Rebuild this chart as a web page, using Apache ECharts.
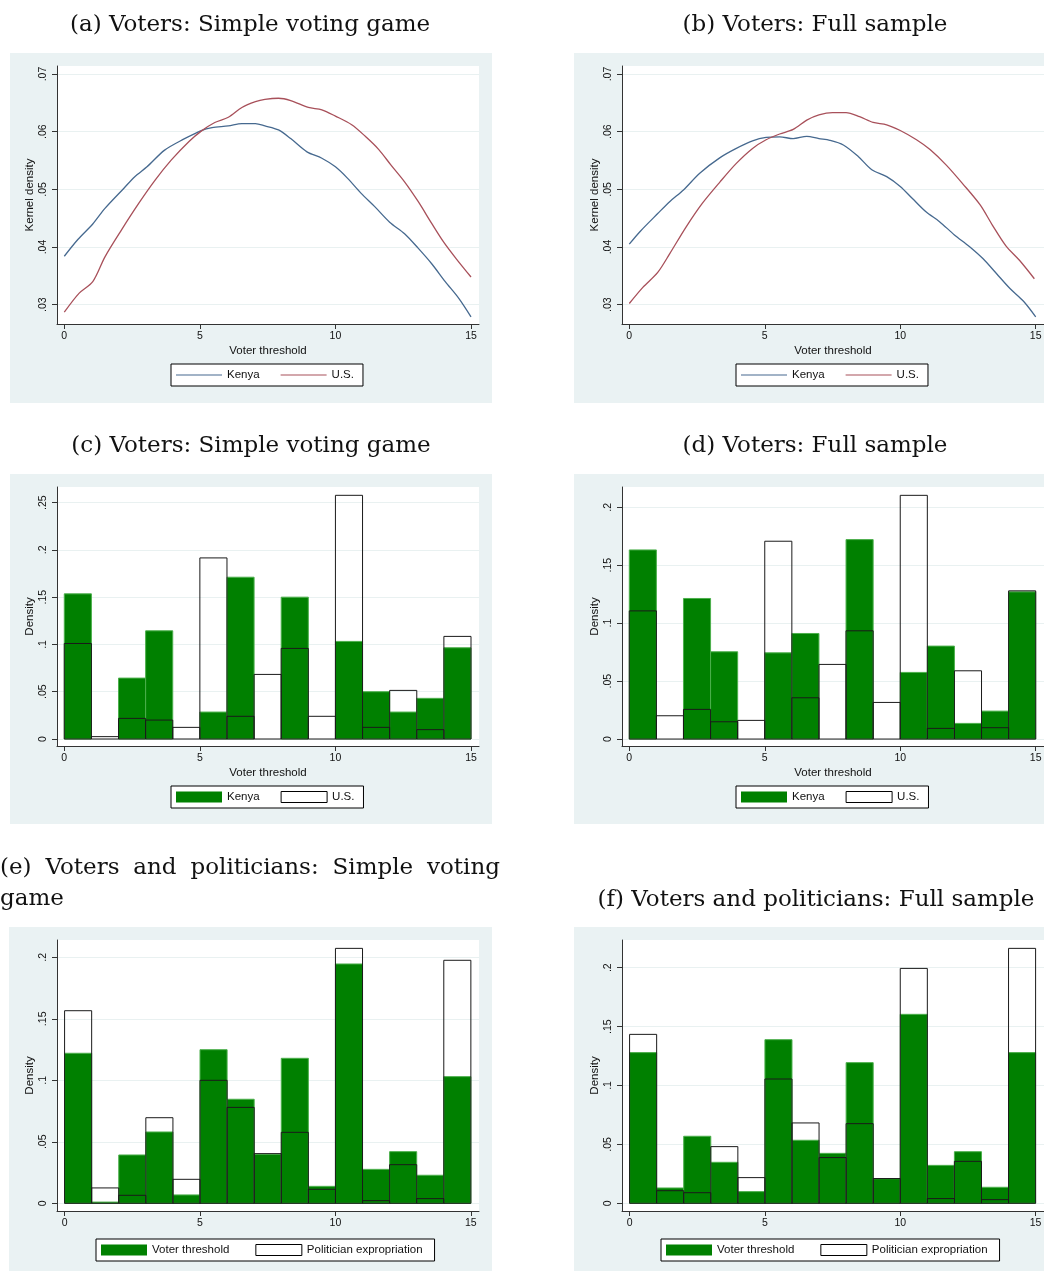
<!DOCTYPE html>
<html><head><meta charset="utf-8">
<script src="https://cdn.jsdelivr.net/npm/echarts@6/dist/echarts.min.js"></script>
<style>html,body{margin:0;padding:0;background:#fff}#c{width:1044px;height:1271px}</style>
</head><body><div id="c"></div>
<script>
// ---------------- DATA ----------------
const binEdges = [0,1,2,3,4,5,6,7,8,9,10,11,12,13,14,15];
const xTicks = [0,5,10,15];
const yTicksKde = [0.03,0.04,0.05,0.06,0.07];
const yTicksC = [0,0.05,0.1,0.15,0.2,0.25];
const yTicksDEF = [0,0.05,0.1,0.15,0.2];

// (a) kernel densities, simple voting game
const kdeA_kenya = [[0,0.0384],[0.5,0.0413],[1.05,0.0440],[1.5,0.0467],[2.2,0.0502],[2.6,0.0522],[3.05,0.0539],[3.7,0.0568],[4.4,0.0587],[5.05,0.0602],[5.45,0.0607],[6.05,0.0610],[6.55,0.0614],[7.05,0.0614],[7.4,0.0610],[7.9,0.0603],[8.35,0.0588],[8.95,0.0565],[9.5,0.0554],[10,0.0539],[10.45,0.0519],[10.95,0.0493],[11.45,0.0470],[12,0.0443],[12.55,0.0423],[13.05,0.0398],[13.55,0.0371],[14.05,0.0340],[14.55,0.0311],[15,0.0279]];
const kdeA_us = [[0,0.0287],[0.55,0.0320],[1.05,0.0340],[1.5,0.0383],[2.1,0.0429],[2.75,0.0476],[3.35,0.0516],[3.95,0.0551],[4.6,0.0583],[5.05,0.0601],[5.55,0.0616],[6.05,0.0625],[6.55,0.0642],[7.05,0.0652],[7.4,0.0656],[7.9,0.0658],[8.35,0.0654],[9,0.0642],[9.5,0.0638],[10,0.0627],[10.6,0.0612],[11.1,0.0592],[11.6,0.0569],[12.05,0.0542],[12.55,0.0513],[13.05,0.0479],[13.55,0.0441],[14,0.0408],[14.45,0.0380],[15,0.0348]];
// (b) kernel densities, full sample
const kdeB_kenya = [[0,0.0405],[0.4,0.0427],[1.05,0.0458],[1.5,0.0479],[2,0.0499],[2.6,0.0528],[3.35,0.0555],[3.95,0.0571],[4.55,0.0584],[5.05,0.0590],[5.55,0.0591],[6.05,0.0588],[6.55,0.0592],[7.0,0.0588],[7.4,0.0585],[7.9,0.0577],[8.45,0.0557],[8.95,0.0534],[9.5,0.0522],[10,0.0505],[10.45,0.0484],[10.95,0.0461],[11.45,0.0444],[12,0.0421],[12.55,0.0401],[13.05,0.0380],[13.55,0.0354],[14.05,0.0328],[14.55,0.0306],[15,0.0279]];
const kdeB_us = [[0,0.0302],[0.5,0.0330],[1.05,0.0356],[1.5,0.0389],[2.1,0.0435],[2.7,0.0476],[3.35,0.0513],[3.95,0.0545],[4.55,0.0571],[5.05,0.0586],[5.55,0.0596],[6.05,0.0604],[6.55,0.0620],[7.0,0.0629],[7.5,0.0633],[8.0,0.0633],[8.5,0.0626],[9.0,0.0616],[9.5,0.0612],[10,0.0602],[10.6,0.0586],[11.1,0.0569],[11.7,0.0542],[12.3,0.0510],[12.95,0.0473],[13.4,0.0438],[13.9,0.0402],[14.4,0.0377],[14.95,0.0345]];

// (c) histograms, voters simple voting game
const histC_kenya = [0.1535,0,0.0644,0.1144,0,0.0285,0.1711,0,0.1500,0,0.1032,0.0500,0.0285,0.0430,0.0965];
const histC_us    = [0.1010,0.0025,0.0218,0.0200,0.0123,0.1915,0.0240,0.0683,0.0958,0.0240,0.2577,0.0123,0.0514,0.0099,0.1085];
// (d) histograms, voters full sample
const histD_kenya = [0.1632,0,0.1213,0.0753,0,0.0744,0.0911,0,0.1721,0,0.0575,0.0802,0.0135,0.0241,0.1270];
const histD_us    = [0.1106,0.0201,0.0256,0.0149,0.0161,0.1707,0.0356,0.0644,0.0934,0.0316,0.2103,0.0092,0.0589,0.0098,0.1279];
// (e) voters and politicians, simple voting game
const histE_voter = [0.1220,0.0010,0.0393,0.0580,0.0068,0.1249,0.0846,0.0398,0.1179,0.0138,0.1946,0.0276,0.0420,0.0228,0.1030];
const histE_pol   = [0.1566,0.0125,0.0065,0.0696,0.0195,0.1000,0.0780,0.0404,0.0577,0.0114,0.2073,0.0022,0.0314,0.0038,0.1976];
// (f) voters and politicians, full sample
const histF_voter = [0.1279,0.0130,0.0569,0.0348,0.0099,0.1389,0.0535,0.0424,0.1194,0.0209,0.1604,0.0322,0.0438,0.0136,0.1279];
const histF_pol   = [0.1434,0.0107,0.0090,0.0481,0.0218,0.1055,0.0682,0.0388,0.0676,0.0210,0.1994,0.0040,0.0356,0.0031,0.2164];

const titles = ['(a) Voters: Simple voting game','(b) Voters: Full sample','(c) Voters: Simple voting game','(d) Voters: Full sample','(f) Voters and politicians: Full sample'];
const titleE1Words = ['(e)','Voters','and','politicians:','Simple','voting'];
const titleE2 = 'game';

// ---------------- LAYOUT ----------------
const SANS = '"Liberation Sans", Arial, sans-serif';
const SERIF = '"DejaVu Serif", serif';
const TITLE_FONT = '23px ' + SERIF;
const BG = '#eaf2f3';
const GREEN = '#008000';
const KENYA_LINE = '#46698f';
const US_LINE = '#a8505a';

const panels = [
  {key:'a', bg:[10,53,482,350], grid:[57,66,422,258], x:[-0.269,15.295], y:[0.02665,0.07139], yt:yTicksKde, yName:'Kernel density', xName:'Voter threshold', leg:[171,364], kind:'line', d1:kdeA_kenya, d2:kdeA_us, n1:'Kenya', n2:'U.S.'},
  {key:'b', bg:[574,53,470,350], grid:[622,66,422,258], x:[-0.269,15.306], y:[0.02665,0.07139], yt:yTicksKde, yName:'Kernel density', xName:'Voter threshold', leg:[736,364], kind:'line', d1:kdeB_kenya, d2:kdeB_us, n1:'Kenya', n2:'U.S.'},
  {key:'c', bg:[10,474,482,350], grid:[57,487,422,259], x:[-0.269,15.295], y:[-0.0074,0.2665], yt:yTicksC, yName:'Density', xName:'Voter threshold', leg:[171,786], kind:'hist', d1:histC_kenya, d2:histC_us, n1:'Kenya', n2:'U.S.'},
  {key:'d', bg:[574,474,470,350], grid:[622,487,422,259], x:[-0.269,15.306], y:[-0.006,0.2175], yt:yTicksDEF, yName:'Density', xName:'Voter threshold', leg:[736,786], kind:'hist', d1:histD_kenya, d2:histD_us, n1:'Kenya', n2:'U.S.'},
  {key:'e', bg:[9,927,483,344], grid:[57,940,422,271], x:[-0.28,15.3], y:[-0.00626,0.2141], yt:yTicksDEF, yName:'Density', xName:'', leg:[96,1239], kind:'hist', d1:histE_voter, d2:histE_pol, n1:'Voter threshold', n2:'Politician expropriation'},
  {key:'f', bg:[574,927,470,344], grid:[622,940,422,271], x:[-0.28,15.31], y:[-0.00654,0.2235], yt:yTicksDEF, yName:'Density', xName:'', leg:[661,1239], kind:'hist', d1:histF_voter, d2:histF_pol, n1:'Voter threshold', n2:'Politician expropriation'}
];

const titlePos = [[250,25],[815,25],[251,446],[815,446],[816,900]];
const LINE_E_LEFT = 0, LINE_E_RIGHT = 500;

function fmt(v){ if (Math.abs(v) < 1e-9) return '0'; return String(parseFloat(v.toFixed(3))).replace(/^0\./,'.'); }

const displayName = {};
const grids=[], xAxes=[], yAxes=[], series=[], legends=[], graphics=[];

function hist(name, vals, i, fill, stroke, z){
  return {type:'custom', name, xAxisIndex:i, yAxisIndex:i, z, clip:false, silent:true, animation:false,
    data: vals.map((v,k)=>[binEdges[k], binEdges[k+1], v]),
    encode:{x:[0,1], y:2},
    itemStyle:{color: fill==='none'?'#fff':fill, borderColor:stroke},
    renderItem:(params, api)=>{
      const v = api.value(2);
      if (!(v > 0)) return null;
      const p0 = api.coord([api.value(0), 0]);
      const p1 = api.coord([api.value(1), v]);
      return {type:'rect', shape:{x:p0[0], y:p1[1], width:p1[0]-p0[0], height:p0[1]-p1[1]},
        style:{fill: fill, stroke: stroke, lineWidth:1}};
    }};
}

panels.forEach((p,i)=>{
  graphics.push({type:'rect', z:-10, shape:{x:p.bg[0],y:p.bg[1],width:p.bg[2],height:p.bg[3]}, style:{fill:BG}, silent:true});
  graphics.push({type:'rect', z:-9, shape:{x:p.grid[0],y:p.grid[1],width:p.grid[2],height:p.grid[3]}, style:{fill:'#fff'}, silent:true});
  grids.push({left:p.grid[0], top:p.grid[1], width:p.grid[2], height:p.grid[3], show:false, outerBoundsMode:'none', containLabel:false});
  xAxes.push({type:'value', gridIndex:i, min:p.x[0], max:p.x[1],
    name:p.xName, nameLocation:'middle', nameGap:21, nameTextStyle:{fontFamily:SANS,fontSize:11.5,color:'#111'},
    axisLine:{show:true,onZero:false,lineStyle:{color:'#333',width:1}},
    axisTick:{show:true,length:5,customValues:xTicks,lineStyle:{color:'#333'}},
    axisLabel:{customValues:xTicks,margin:7,fontFamily:SANS,fontSize:10.5,color:'#111',formatter:fmt},
    splitLine:{show:false}});
  yAxes.push({type:'value', gridIndex:i, min:p.y[0], max:p.y[1],
    name:p.yName, nameLocation:'middle', nameGap:21, nameRotate:90, nameTextStyle:{fontFamily:SANS,fontSize:11.5,color:'#111'},
    axisLine:{show:true,onZero:false,lineStyle:{color:'#333',width:1}},
    axisTick:{show:true,length:5,customValues:p.yt,lineStyle:{color:'#333'}},
    axisLabel:{customValues:p.yt,rotate:90,margin:8,fontFamily:SANS,fontSize:10.5,color:'#111',formatter:fmt},
    splitLine:{show:true,lineStyle:{color:'#e9f1f1',width:1}}});
  const s1 = p.key+'_1', s2 = p.key+'_2';
  displayName[s1]=p.n1; displayName[s2]=p.n2;
  if (p.kind==='line') {
    series.push({type:'line', name:s1, xAxisIndex:i, yAxisIndex:i, data:p.d1, symbol:'none', smooth:0.3, lineStyle:{color:KENYA_LINE,width:1.3}, itemStyle:{color:KENYA_LINE}, silent:true, animation:false});
    series.push({type:'line', name:s2, xAxisIndex:i, yAxisIndex:i, data:p.d2, symbol:'none', smooth:0.3, lineStyle:{color:US_LINE,width:1.3}, itemStyle:{color:US_LINE}, silent:true, animation:false});
    legends.push({data:[{name:s1,icon:'rect',itemStyle:{color:KENYA_LINE,borderWidth:0}},{name:s2,icon:'rect',itemStyle:{color:US_LINE,borderWidth:0}}],
      left:p.leg[0], top:p.leg[1], orient:'horizontal', padding:[5,9,5,5], itemGap:21, itemWidth:46, itemHeight:1.2,
      borderColor:'#000', borderWidth:1, backgroundColor:'#fff', selectedMode:false, formatter:n=>displayName[n],
      textStyle:{fontFamily:SANS,fontSize:11.5,color:'#111',lineHeight:12}});
  } else {
    series.push(hist(s1, p.d1, i, GREEN, '#4caf4c', 2));
    series.push(hist(s2, p.d2, i, 'none', '#1a1a1a', 3));
    const wide = p.key==='e'||p.key==='f';
    legends.push({data:[{name:s1,icon:'rect',itemStyle:{color:GREEN,borderColor:GREEN,borderWidth:0}},{name:s2,icon:'rect',itemStyle:{color:'#fff',borderColor:'#000',borderWidth:1}}],
      left:p.leg[0], top:p.leg[1], orient:'horizontal', padding: wide?[5,12,5,5]:[5,9,5,5], itemGap: wide?26:21, itemWidth:46, itemHeight:11,
      borderColor:'#000', borderWidth:1, backgroundColor:'#fff', selectedMode:false, formatter:n=>displayName[n],
      textStyle:{fontFamily:SANS,fontSize:11.5,color:'#111',lineHeight:12}});
  }
});

titles.forEach((t,k)=>{
  graphics.push({type:'text', z:10, x:titlePos[k][0], y:titlePos[k][1], silent:true,
    style:{text:t, fill:'#111', font:TITLE_FONT, textAlign:'center', textVerticalAlign:'middle'}});
});
// justified first line of title (e)
(function(){
  const ctx = document.createElement('canvas').getContext('2d');
  ctx.font = TITLE_FONT;
  const widths = titleE1Words.map(w=>ctx.measureText(w).width);
  const total = widths.reduce((a,b)=>a+b,0);
  const gap = (LINE_E_RIGHT - LINE_E_LEFT - total) / (titleE1Words.length - 1);
  let x = LINE_E_LEFT;
  titleE1Words.forEach((w,k)=>{
    graphics.push({type:'text', z:10, x:x, y:868, silent:true,
      style:{text:w, fill:'#111', font:TITLE_FONT, textAlign:'left', textVerticalAlign:'middle'}});
    x += widths[k] + gap;
  });
})();
graphics.push({type:'text', z:10, x:0, y:899, silent:true,
  style:{text:titleE2, fill:'#111', font:TITLE_FONT, textAlign:'left', textVerticalAlign:'middle'}});

const chart = echarts.init(document.getElementById('c'), null, {renderer:'canvas', width:1044, height:1271});
chart.setOption({
  animation:false,
  backgroundColor:'#fff',
  grid:grids, xAxis:xAxes, yAxis:yAxes, series, legend:legends,
  graphic:{elements:graphics}
});
</script>
</body></html>
